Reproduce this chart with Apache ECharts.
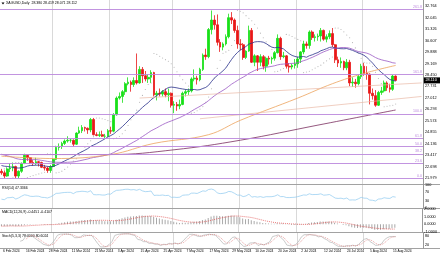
<!DOCTYPE html>
<html><head><meta charset="utf-8">
<script src="https://cdn.jsdelivr.net/npm/echarts@6/dist/echarts.min.js"></script>
<style>html,body{margin:0;padding:0;background:#fff}#c{width:440px;height:254px}</style>
</head><body><div id="c"></div>
<script>
// ---------- data ----------
const startDate = '2024-02-06', endDate = '2024-08-16';
const holidays = ['2024-03-29'];
const padBars = 9;
const opens = [22.40,22.30,22.10,22.55,22.60,22.70,22.10,22.40,22.90,23.40,23.25,22.95,22.90,23.00,22.95,22.65,22.60,22.45,22.70,23.15,23.90,23.95,24.15,24.30,24.35,24.35,24.10,24.80,24.95,25.15,25.10,25.00,25.65,24.70,24.65,24.70,24.60,24.60,24.95,24.92,25.95,27.00,27.10,27.40,27.90,28.00,27.85,28.10,27.95,28.80,28.40,28.20,28.30,28.60,27.20,27.30,27.25,27.40,27.20,27.30,26.55,26.60,26.50,26.60,27.30,27.40,27.45,28.20,28.25,28.15,28.80,29.70,29.60,31.30,31.90,31.60,30.50,30.20,30.40,30.85,32.05,31.90,31.25,30.40,30.35,29.55,29.95,31.25,29.25,29.65,29.25,29.60,29.00,29.50,29.45,29.50,29.85,30.75,29.60,29.65,29.00,28.95,29.05,29.15,29.45,29.90,30.40,30.30,31.15,30.80,30.85,30.90,31.25,30.70,30.85,31.05,30.35,29.40,29.20,29.30,28.90,29.25,27.95,28.00,27.90,28.35,29.00,28.55,28.50,27.30,27.15,26.55,27.35,27.45,27.95,27.65,27.55,28.38];
const highs = [22.55,22.45,22.65,22.90,22.95,22.75,22.45,22.95,23.50,23.45,23.30,23.10,23.25,23.05,23.00,22.80,22.70,22.80,23.20,24.00,24.15,24.25,24.40,24.60,24.45,24.40,24.85,25.20,25.30,25.20,25.15,25.75,25.75,24.85,24.90,24.95,24.75,25.05,25.20,26.05,27.10,27.35,27.50,28.00,28.30,28.10,28.30,29.80,29.00,28.95,28.70,28.50,28.75,28.65,27.45,27.60,27.50,27.60,27.60,27.35,26.80,26.75,26.90,27.40,27.55,27.60,28.30,28.80,28.40,28.90,29.80,30.10,31.40,32.50,32.20,32.25,30.70,30.50,31.00,32.30,32.40,32.00,31.55,30.70,30.45,30.00,31.55,31.40,29.75,29.70,29.75,29.70,29.60,29.65,29.60,29.95,31.00,30.85,29.90,29.70,29.20,29.15,29.45,29.60,29.95,30.60,30.55,31.25,31.25,31.00,31.05,31.40,31.30,31.00,31.25,31.40,30.40,29.60,29.55,29.35,29.45,29.40,28.30,28.20,28.50,29.15,29.20,29.00,28.55,27.60,27.50,27.45,27.70,28.10,28.05,27.90,28.45,28.42];
const lows = [22.18,21.95,22.05,22.35,22.40,21.95,21.95,22.30,22.85,23.05,22.85,22.75,22.80,22.70,22.60,22.45,22.30,22.30,22.65,23.10,23.70,23.80,24.05,24.20,24.20,23.95,24.05,24.75,24.80,24.90,24.75,24.85,24.65,24.60,24.55,24.55,24.45,24.55,24.75,24.85,25.90,26.90,26.70,27.20,27.80,27.40,27.70,27.85,27.90,27.95,28.05,27.95,27.95,27.10,26.85,27.10,27.10,27.05,26.80,26.40,26.05,26.20,26.30,26.55,27.10,27.20,27.35,28.05,27.85,28.05,28.70,29.40,29.50,31.00,31.30,30.30,29.90,30.00,30.30,30.75,31.65,31.10,30.10,30.00,29.40,29.45,29.90,29.20,29.00,28.70,29.00,28.80,28.65,29.10,29.15,29.35,29.80,29.40,29.50,28.85,28.60,28.80,28.85,28.90,29.20,29.75,30.10,30.10,30.65,30.55,30.60,30.55,30.60,30.50,30.70,30.20,29.20,28.95,28.90,28.75,28.75,27.75,27.70,27.65,27.80,28.20,28.40,28.15,26.60,26.90,26.45,26.50,27.20,27.35,27.45,27.35,27.45,28.07];
const closes = [22.30,22.10,22.55,22.60,22.70,22.10,22.40,22.90,23.40,23.25,22.95,22.90,23.00,22.95,22.65,22.60,22.45,22.70,23.15,23.90,23.95,24.15,24.30,24.35,24.35,24.10,24.80,24.95,25.15,25.10,25.00,25.65,24.70,24.65,24.70,24.60,24.60,24.95,24.92,25.95,27.00,27.10,27.40,27.90,28.00,27.85,28.10,27.95,28.80,28.40,28.20,28.30,28.60,27.20,27.30,27.25,27.40,27.20,27.30,26.55,26.60,26.50,26.60,27.30,27.40,27.45,28.20,28.25,28.15,28.80,29.70,29.60,31.30,31.90,31.60,30.50,30.20,30.40,30.85,32.05,31.90,31.25,30.40,30.35,29.55,29.95,31.25,29.25,29.65,29.25,29.60,29.00,29.50,29.45,29.50,29.85,30.75,29.60,29.65,29.00,28.95,29.05,29.15,29.45,29.90,30.40,30.30,31.15,30.80,30.85,30.90,31.25,30.70,30.85,31.05,30.35,29.40,29.20,29.30,28.90,29.25,27.95,28.00,27.90,28.35,29.00,28.55,28.50,27.30,27.15,26.55,27.35,27.45,27.95,27.65,27.55,28.38,28.11];
const prevCloses = [24.65,24.75,24.95,25.00,25.20,25.60,24.45,23.95,23.65,23.70,23.05,22.75,22.85,23.95,24.10,24.00,24.15,24.05,24.00,24.30,24.35,24.20,24.40,24.00,23.80,23.70,23.25,23.05,23.20,23.05,23.00,22.95,22.85,23.20,23.10,22.90,22.60,22.60,22.55,21.95,22.15,22.85,22.75,22.85,23.15,23.15,22.95,23.20,22.75,22.40];
const ma100Knots = [[0,23.35],[18,23.20],[38,23.45],[53,24.15],[72,24.70],[83,25.60],[103,27.00],[115,27.90],[126,28.55],[137,29.05]];
const ma200Knots = [[0,23.45],[38,23.45],[60,23.75],[83,24.35],[110,25.30],[137,26.25]];
// thin trend lines: [startBar, startPrice, endBar, endPrice]
const trendLines = [[48, 27.00, 146, 27.95], [69, 25.70, 146, 27.10]];
const fibLow = 21.95, fibHigh = 26.00;
const fibLevels = [0, 23.6, 38.2, 50.0, 61.8, 100.0, 161.8, 261.8];
const priceTicks = [21.979,22.698,23.417,24.136,24.855,25.574,26.293,27.012,27.731,28.450,29.169,29.888,30.607,31.326,32.045,32.764];
const rsiTicks = [100, 70, 30, 0];
const stochTicks = [100, 80, 20, 0];
const titleText = 'XAGUSD,Daily  28.380 28.419 28.071 28.112';
const rsiText = 'RSI(14) 47.3366';
const macdText = 'MACD(12,26,9) -0.4451 -0.4107';
const stochText = 'Stoch(5,3,3) 78.0000 80.6024';

const MON = ['Jan','Feb','Mar','Apr','May','Jun','Jul','Aug','Sep','Oct','Nov','Dec'];
const cats = [], monthStart = [];
(function(){
  let d = new Date(startDate + 'T00:00:00Z'); const e = new Date(endDate + 'T00:00:00Z');
  let lastM = -1;
  while (d <= e) {
    const wd = d.getUTCDay(); const iso = d.toISOString().slice(0,10);
    if (wd !== 0 && wd !== 6 && holidays.indexOf(iso) < 0) {
      const m = d.getUTCMonth();
      monthStart.push(lastM !== -1 && m !== lastM);
      lastM = m;
      cats.push(d.getUTCDate() + ' ' + MON[m] + ' ' + d.getUTCFullYear());
    }
    d = new Date(d.getTime() + 86400000);
  }
  for (let i = 0; i < padBars; i++) { cats.push(''); monthStart.push(false); }
})();
const N = closes.length, P = prevCloses.length;
const allC = prevCloses.concat(closes);

function sma(n){ const o=[]; for(let i=0;i<N;i++){const p=i+P; if(p-n+1<0){o.push(null);continue;} let s=0; for(let k=p-n+1;k<=p;k++) s+=allC[k]; o.push(+(s/n).toFixed(4));} return o; }
function ema(arr,n){ const a=2/(n+1); const o=[]; let v=arr[0]; for(let i=0;i<arr.length;i++){ v = i===0?arr[0]:a*arr[i]+(1-a)*v; o.push(v);} return o; }
const ma20 = sma(20), ma50 = sma(50);
const e12 = ema(allC,12), e26 = ema(allC,26);
const macdAll = allC.map((_,i)=>e12[i]-e26[i]);
const sigAll = macdAll.map((_,i)=>{ if(i<8) return null; let s=0; for(let k=i-8;k<=i;k++) s+=macdAll[k]; return s/9; });
const macd = macdAll.slice(P).map(v=>+v.toFixed(4)), macdSig = sigAll.slice(P).map(v=>+v.toFixed(4));
const rsi = (function(){ let g=0,l=0; const out=[]; for(let i=1;i<allC.length;i++){ const ch=allC[i]-allC[i-1]; const up=Math.max(ch,0), dn=Math.max(-ch,0); if(i<=14){g+=up/14;l+=dn/14;} else {g=(g*13+up)/14;l=(l*13+dn)/14;} if(i-P>=0) out.push(i>=14? +(100-100/(1+g/(l||1e-9))).toFixed(2):null);} return out; })();
const stochK = [], stochD = [];
for (let i=0;i<N;i++){
  if (i<6){stochK.push(null);continue;}
  let num=0, den=0;
  for (let j=i-2;j<=i;j++){ let hh=-1e9, ll=1e9; for(let k=j-4;k<=j;k++){hh=Math.max(hh,highs[k]);ll=Math.min(ll,lows[k]);} num+=closes[j]-ll; den+=hh-ll; }
  stochK.push(+(100*num/den).toFixed(2));
}
for (let i=0;i<N;i++){ if(i<8||stochK[i-2]==null){stochD.push(null);continue;} stochD.push(+((stochK[i]+stochK[i-1]+stochK[i-2])/3).toFixed(2)); }
const sar = (function(){ const out=[null]; let up=false, af=0.02, ep=lows[0], s=highs[0];
  for(let i=1;i<N;i++){ s=s+af*(ep-s);
    if(up){ s=Math.min(s,lows[i-1],lows[Math.max(i-2,0)]); if(lows[i]<s){up=false;s=ep;ep=lows[i];af=0.02;} else if(highs[i]>ep){ep=highs[i];af=Math.min(af+0.02,0.2);} }
    else { s=Math.max(s,highs[i-1],highs[Math.max(i-2,0)]); if(highs[i]>s){up=true;s=ep;ep=highs[i];af=0.02;} else if(lows[i]<ep){ep=lows[i];af=Math.min(af+0.02,0.2);} }
    out.push(+s.toFixed(3)); }
  return out; })();

const FONT = 'Liberation Sans';
const GRIDC = '#c9c9c9';
const FIBC = '#bb88dd';
const G = [ {left:0,right:17,top:0,height:184}, {left:0,right:17,top:185,height:23}, {left:0,right:17,top:209,height:23}, {left:0,right:17,top:233,height:15} ];
const xAxes = G.map((g,i)=>({type:'category', gridIndex:i, data:cats, boundaryGap:true,
  axisLine:{show:false}, axisTick:{show:false},
  axisLabel: i===3 ? {show:true, interval:(idx)=>idx%8===0 && idx<N, fontSize:3.3, fontFamily:FONT, color:'#000', align:'left', margin:1.5, showMinLabel:true, hideOverlap:false} : {show:false},
  splitLine:{show:true, interval:(idx)=>monthStart[idx], lineStyle:{color:GRIDC,width:0.7}} }));
const yBase = {position:'right', axisLine:{show:true,lineStyle:{color:'#888',width:0.8}}, axisTick:{show:false}, splitLine:{show:false}};
const yAxes = [
  Object.assign({}, yBase, {type:'value', gridIndex:0, min:21.60, max:33.16, axisLabel:{customValues:priceTicks, fontSize:3.8, fontFamily:FONT, color:'#000', margin:2, formatter:v=>v.toFixed(3)}}),
  Object.assign({}, yBase, {type:'value', gridIndex:1, min:0, max:100, axisLabel:{customValues:rsiTicks, fontSize:3.8, fontFamily:FONT, color:'#000', margin:2}}),
  Object.assign({}, yBase, {type:'value', gridIndex:2, scale:true, axisLabel:{fontSize:3.8, fontFamily:FONT, color:'#000', margin:2, formatter:v=>v.toFixed(4)}, splitNumber:2}),
  Object.assign({}, yBase, {type:'value', gridIndex:3, min:0, max:100, axisLabel:{customValues:stochTicks, fontSize:3.8, fontFamily:FONT, color:'#000', margin:2}})
];
const fibData = fibLevels.map(l=>({yAxis: +(fibLow + l/100*(fibHigh-fibLow)).toFixed(3), label:{formatter: l.toFixed(1)}}));
const trendData = trendLines.map(t=>[{coord:[t[0], t[1]]},{coord:[t[2], t[3]]}]);
const ohlc = closes.map((c,i)=>[opens[i], c, lows[i], highs[i]]);
const chart = echarts.init(document.getElementById('c'), null, {renderer:'canvas'});
chart.setOption({
  animation:false, backgroundColor:'#fff',
  grid:G, xAxis:xAxes, yAxis:yAxes,
  series:[
    {type:'line', xAxisIndex:0, yAxisIndex:0, data:[], markLine:{silent:true, symbol:'none', animation:false, label:{show:false},
      lineStyle:{color:'#e9b9a6', width:0.7, type:'solid'}, data:trendData}},
    {type:'candlestick', xAxisIndex:0, yAxisIndex:0, data:ohlc, barWidth:2.2,
     itemStyle:{color:'#18e018', color0:'#e81818', borderColor:'#18e018', borderColor0:'#e81818', borderWidth:0.8},
     markLine:{silent:true, symbol:'none', animation:false, lineStyle:{color:FIBC, width:0.9, type:'solid'},
       label:{position:'insideEndTop', fontSize:3.6, fontFamily:FONT, color:FIBC, distance:[1,0.5]}, data:fibData}},
    {type:'line', xAxisIndex:0, yAxisIndex:0, data:ma20, showSymbol:false, lineStyle:{color:'#28308a', width:0.8}},
    {type:'line', xAxisIndex:0, yAxisIndex:0, data:ma50, showSymbol:false, lineStyle:{color:'#9b59c4', width:0.8}},
    {type:'line', xAxisIndex:0, yAxisIndex:0, data:ma100Knots, showSymbol:false, smooth:0.4, lineStyle:{color:'#eca25c', width:0.8}},
    {type:'line', xAxisIndex:0, yAxisIndex:0, data:ma200Knots, showSymbol:false, smooth:0.4, lineStyle:{color:'#7a2d5e', width:0.8}},
    {type:'scatter', xAxisIndex:0, yAxisIndex:0, data:sar, symbolSize:1.1, itemStyle:{color:'#a0a0a0'}},
    {type:'line', xAxisIndex:1, yAxisIndex:1, data:rsi, showSymbol:false, lineStyle:{color:'#8cc9ef', width:0.7}},
    {type:'bar', xAxisIndex:2, yAxisIndex:2, data:macd, barWidth:0.8, itemStyle:{color:'#a8a8a8'}},
    {type:'line', xAxisIndex:2, yAxisIndex:2, data:macdSig, showSymbol:false, lineStyle:{color:'#e04040', width:0.7, type:[1,1]}},
    {type:'line', xAxisIndex:3, yAxisIndex:3, data:stochK, showSymbol:false, lineStyle:{color:'#b5b5b5', width:0.7}},
    {type:'line', xAxisIndex:3, yAxisIndex:3, data:stochD, showSymbol:false, lineStyle:{color:'#e08080', width:0.7, type:[1,1]}}
  ]
});
const lastPx = chart.convertToPixel({xAxisIndex:0, yAxisIndex:0}, [N-1, closes[N-1]]);
const sepYs = [G[1].top-0.5, G[2].top-0.5, G[3].top-0.5, G[3].top+G[3].height+0.5];
const gfx = [
  {type:'polygon', shape:{points:[[1.5,2.5],[4.5,2.5],[3,4.5]]}, style:{fill:'#000'}},
  {type:'text', x:6, y:1.5, style:{text:titleText, fontSize:3.5, fontFamily:FONT, fill:'#000'}},
  {type:'text', x:2, y:G[1].top+1.5, style:{text:rsiText, fontSize:3.5, fontFamily:FONT, fill:'#000'}},
  {type:'text', x:2, y:G[2].top+1.5, style:{text:macdText, fontSize:3.5, fontFamily:FONT, fill:'#000'}},
  {type:'text', x:2, y:G[3].top+1.5, style:{text:stochText, fontSize:3.5, fontFamily:FONT, fill:'#000'}},
  {type:'rect', shape:{x:423.5, y:lastPx[1]-3, width:16.5, height:6}, style:{fill:'#000'}},
  {type:'text', x:425.5, y:lastPx[1]-2.2, style:{text:closes[N-1].toFixed(3), fontSize:3.8, fontFamily:FONT, fill:'#fff'}}
].concat(sepYs.map(y=>({type:'line', shape:{x1:0,y1:y,x2:440,y2:y}, style:{stroke:'#8a8a8a', lineWidth:0.8}})));
chart.setOption({graphic:gfx});
</script>
</body></html>
